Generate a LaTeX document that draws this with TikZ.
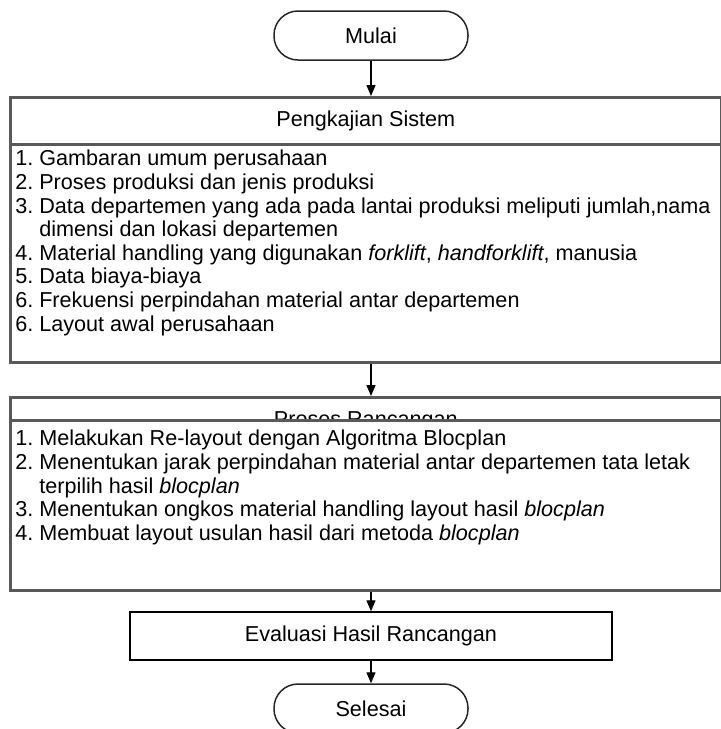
\documentclass[tikz,border=0pt]{standalone}
\usepackage{fontspec}
\setmainfont{Liberation Sans}
\usetikzlibrary{arrows.meta}
\frenchspacing

\begin{document}
\begin{tikzpicture}[x=0.5pt, y=-0.5pt,
    font=\fontsize{10.8pt}{11.8pt}\selectfont,
    ujung/.style={draw=black!85, line width=0.75pt, rounded corners=12pt,
      minimum width=97pt, minimum height=24.5pt, inner sep=0pt},
    kepala/.style={draw=black!65, line width=1.3pt, minimum width=355.5pt,
      anchor=north west, inner sep=0pt},
    isi/.style={draw=black!65, line width=1.3pt, fill=white, anchor=north west,
      inner ysep=0pt, inner xsep=2.5pt},
    proses/.style={draw=black, line width=0.75pt, minimum width=241pt,
      minimum height=24pt, inner sep=0pt},
    panah/.style={-{Triangle[width=4.5pt,length=5.5pt]}, line width=0.7pt}]

    \useasboundingbox (0, 0) rectangle (720, 729);

    \node[ujung] (mulai) at (371, 35.5) {Mulai};

    \node[kepala, minimum height=23.5pt] (kajian) at (9, 96) {Pengkajian Sistem};
    \node[isi] (kajianisi) at (9, 143) {\parbox[c][109pt][t]{350.5pt}{\raggedright
      \rule{0pt}{10.75pt}1. Gambaran umum perusahaan\\
      2. Proses produksi dan jenis produksi\\
      3. Data departemen yang ada pada lantai produksi meliputi jumlah,nama\\
      \phantom{3. }dimensi dan lokasi departemen\\
      4. Material handling yang digunakan \textit{forklift}, \textit{handforklift}, manusia\\
      5. Data biaya-biaya\\
      6. Frekuensi perpindahan material antar departemen\\
      6. Layout awal perusahaan}};

    \node[kepala, minimum height=11.5pt] (rancang) at (9, 396)
      {\raisebox{-9pt}[0pt][0pt]{Proses Rancangan}};
    \node[isi] (rancangisi) at (9, 419) {\parbox[c][85pt][t]{350.5pt}{\raggedright
      \rule{0pt}{12.75pt}1. Melakukan Re-layout dengan Algoritma Blocplan\\
      2. Menentukan jarak perpindahan material antar departemen tata letak\\
      \phantom{2. }terpilih hasil \textit{blocplan}\\
      3. Menentukan ongkos material handling layout hasil \textit{blocplan}\\
      4. Membuat layout usulan hasil dari metoda \textit{blocplan}}};

    \node[proses] (evaluasi) at (371, 636) {Evaluasi Hasil Rancangan};
    \node[ujung] (selesai) at (371, 708.5) {Selesai};

    \draw [panah] (mulai.south) to (mulai.south |- kajian.north);
    \draw [panah] (mulai |- kajianisi.south) to (mulai |- rancang.north);
    \draw [panah] (mulai |- rancangisi.south) to (evaluasi.north);
    \draw [panah] (evaluasi.south) to (selesai.north);

  \end{tikzpicture}
\end{document}
